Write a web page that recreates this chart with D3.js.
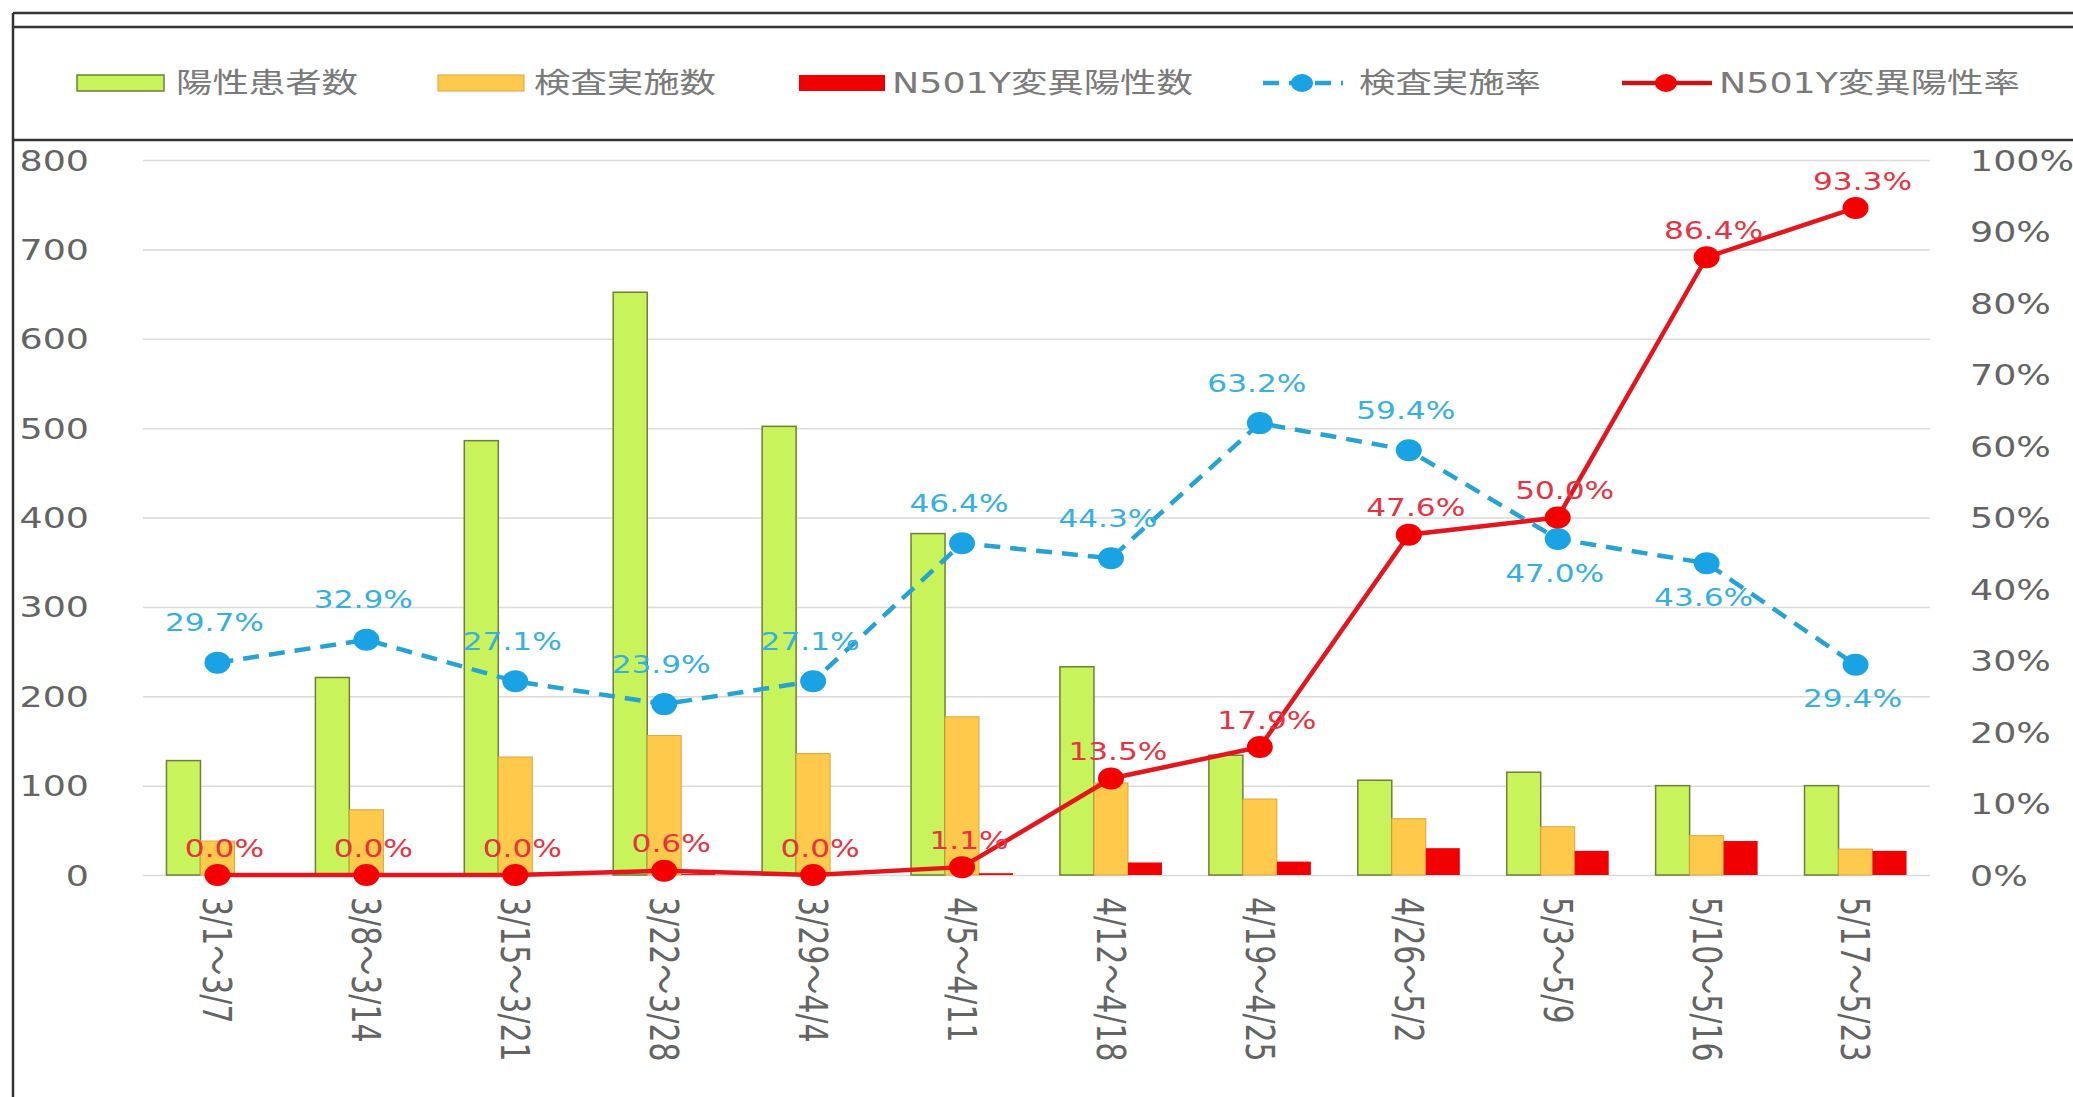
<!DOCTYPE html>
<html>
<head>
<meta charset="utf-8">
<script src="https://cdn.jsdelivr.net/npm/d3@7"></script>
<style>
  body { margin: 0; background: #fff; }
  svg { display: block; }
</style>
</head>
<body>
<svg id="svg" width="2073" height="1097"></svg>
<script>

// weekly data
var categories = ["3/1～3/7", "3/8～3/14", "3/15～3/21", "3/22～3/28", "3/29～4/4", "4/5～4/11",
                  "4/12～4/18", "4/19～4/25", "4/26～5/2", "5/3～5/9", "5/10～5/16", "5/17～5/23"];
var positives = [128, 221, 486, 652, 502, 382, 233, 134, 106, 115, 100, 100];   // 陽性患者数
var tested    = [38, 73, 132, 156, 136, 177, 103, 85, 63, 54, 44, 29];          // 検査実施数
var n501y     = [0, 0, 0, 1, 0, 2, 14, 15, 30, 27, 38, 27];                    // N501Y変異陽性数
var testRate  = [29.7, 32.9, 27.1, 23.9, 27.1, 46.4, 44.3, 63.2, 59.4, 47.0, 43.6, 29.4]; // 検査実施率 %
var n501yRate = [0.0, 0.0, 0.0, 0.6, 0.0, 1.1, 13.5, 17.9, 47.6, 50.0, 86.4, 93.3];      // N501Y変異陽性率 %
var leftTicks  = [0, 100, 200, 300, 400, 500, 600, 700, 800];
var rightTicks = [0, 0.1, 0.2, 0.3, 0.4, 0.5, 0.6, 0.7, 0.8, 0.9, 1];

var seriesNames = ["陽性患者数", "検査実施数", "N501Y変異陽性数", "検査実施率", "N501Y変異陽性率"];

var svg = d3.select("#svg");
var font = "'DejaVu Sans', 'Noto Sans CJK JP', sans-serif";
var stretch = 1.3;   // the original picture is widened

var plot = {left: 143, right: 1930, top: 160, bottom: 875};

var x = d3.scaleBand()
    .domain(categories)
    .range([plot.left, plot.right]);
var xSub = d3.scaleBand()
    .domain(["pos", "test", "n501y"])
    .range([-51, 51]);
var yL = d3.scaleLinear().domain([0, 800]).range([plot.bottom, plot.top]);
var yR = d3.scaleLinear().domain([0, 1]).range([plot.bottom, plot.top]);
var cx = function (i) { return x(categories[i]) + x.bandwidth() / 2; };

svg.append("rect").attr("width", 2073).attr("height", 1097).attr("fill", "#fff");

// gridlines
svg.append("g")
    .attr("transform", "translate(" + plot.left + ",0)")
    .call(d3.axisLeft(yL).tickValues(leftTicks).tickSize(-(plot.right - plot.left)).tickFormat(""))
    .call(function (g) { g.select(".domain").remove(); })
    .selectAll("line")
    .attr("stroke", "#dadada")
    .attr("stroke-width", 1.5);

// left axis
var leftAxis = svg.append("g")
    .attr("transform", "translate(89,0)")
    .call(d3.axisLeft(yL).tickValues(leftTicks).tickSize(0).tickPadding(0));
leftAxis.select(".domain").remove();
leftAxis.selectAll("text")
    .attr("x", 0).attr("dy", "0.36em")
    .attr("transform", "scale(" + stretch + ",1)")
    .style("font-family", font).style("font-size", "28px").attr("fill", "#646464");

// right axis
var rightAxis = svg.append("g")
    .attr("transform", "translate(1970,0)")
    .call(d3.axisRight(yR).tickValues(rightTicks).tickSize(0).tickPadding(0).tickFormat(d3.format(".0%")));
rightAxis.select(".domain").remove();
rightAxis.selectAll("text")
    .attr("x", 0).attr("dy", "0.36em")
    .attr("transform", "scale(" + stretch + ",1)")
    .style("font-family", font).style("font-size", "28px").attr("fill", "#646464");

// bars
var barSeries = [
    {key: "pos", values: positives, fill: "#c9f35b", stroke: "#6e7f3a", sw: 1.5},
    {key: "test", values: tested, fill: "#ffca4b", stroke: "#d8a640", sw: 1},
    {key: "n501y", values: n501y, fill: "#f00000", stroke: "none", sw: 0}
];
var barGrp = svg.append("g");
barSeries.forEach(function (s) {
    barGrp.selectAll("rect." + s.key)
        .data(s.values)
        .enter()
        .append("rect")
        .attr("class", s.key)
        .attr("x", function (d, i) { return cx(i) + xSub(s.key); })
        .attr("width", xSub.bandwidth())
        .attr("y", function (d) { return yL(d); })
        .attr("height", function (d) { return plot.bottom - yL(d); })
        .attr("fill", s.fill)
        .attr("stroke", s.stroke)
        .attr("stroke-width", s.sw);
});

// x axis labels (rotated)
var xAxis = svg.append("g")
    .attr("transform", "translate(0," + plot.bottom + ")")
    .call(d3.axisBottom(x).tickSize(0).tickPadding(0));
xAxis.select(".domain").remove();
xAxis.selectAll("text")
    .attr("x", 0).attr("y", 0).attr("dy", "0.36em")
    .attr("text-anchor", "start")
    .attr("transform", "translate(0,22) scale(" + stretch + ",1) rotate(90)")
    .style("font-family", font).style("font-size", "30px").attr("fill", "#646464");

// lines
var line = d3.line()
    .x(function (d, i) { return cx(i); })
    .y(function (d) { return yR(d / 100); });

svg.append("path")
    .datum(testRate)
    .attr("d", line)
    .attr("fill", "none")
    .attr("stroke", "#27a3d3")
    .attr("stroke-width", 4.5)
    .attr("stroke-dasharray", "16,10");
svg.append("g").selectAll("ellipse")
    .data(testRate).enter().append("ellipse")
    .attr("cx", function (d, i) { return cx(i); })
    .attr("cy", function (d) { return yR(d / 100); })
    .attr("rx", 13).attr("ry", 11)
    .attr("fill", "#1aa3e4");

svg.append("path")
    .datum(n501yRate)
    .attr("d", line)
    .attr("fill", "none")
    .attr("stroke", "#e3161e")
    .attr("stroke-width", 4.5);
svg.append("g").selectAll("ellipse")
    .data(n501yRate).enter().append("ellipse")
    .attr("cx", function (d, i) { return cx(i); })
    .attr("cy", function (d) { return yR(d / 100); })
    .attr("rx", 13).attr("ry", 11)
    .attr("fill", "#f40000");

// stretched text helper
function label(parent, px, py, str, size, fill, anchor) {
    parent.append("text")
        .attr("transform", "translate(" + px + "," + py + ") scale(" + stretch + ",1)")
        .attr("text-anchor", anchor || "middle")
        .attr("dy", "0.36em")
        .style("font-family", font)
        .style("font-size", size + "px")
        .attr("fill", fill)
        .text(str);
}

// data labels
var lblGrp = svg.append("g");
var fmt = function (d) { return d.toFixed(1) + "%"; };
testRate.forEach(function (d, i) {
    var below = i >= 9;
    label(lblGrp, cx(i) - 3, yR(d / 100) + (below ? 34 : -40), fmt(d), 24, "#36b0e0");
});
n501yRate.forEach(function (d, i) {
    label(lblGrp, cx(i) + 7, yR(d / 100) - 27, fmt(d), 24, "#e8323f");
});

// legend
var lg = svg.append("g");
lg.append("rect").attr("x", 77).attr("y", 75).attr("width", 87).attr("height", 16)
    .attr("fill", "#c9f35b").attr("stroke", "#6e7f3a").attr("stroke-width", 1.5);
lg.append("rect").attr("x", 438).attr("y", 75).attr("width", 86).attr("height", 16)
    .attr("fill", "#ffca4b").attr("stroke", "#d8a640").attr("stroke-width", 1);
lg.append("rect").attr("x", 799).attr("y", 75).attr("width", 86).attr("height", 16)
    .attr("fill", "#f00000");
lg.append("line").attr("x1", 1263).attr("x2", 1343).attr("y1", 83).attr("y2", 83)
    .attr("stroke", "#27a3d3").attr("stroke-width", 4.5).attr("stroke-dasharray", "16,10");
lg.append("ellipse").attr("cx", 1302).attr("cy", 83).attr("rx", 11).attr("ry", 9).attr("fill", "#1aa3e4");
lg.append("line").attr("x1", 1622).attr("x2", 1712).attr("y1", 83).attr("y2", 83)
    .attr("stroke", "#c8141c").attr("stroke-width", 4.5);
lg.append("ellipse").attr("cx", 1666).attr("cy", 83).attr("rx", 11).attr("ry", 9).attr("fill", "#f40000");

var lgText = [176, 534, 892, 1359, 1719];
seriesNames.forEach(function (n, i) {
    label(lg, lgText[i], 83, n, 28, "#7a7a7a", "start");
});

// frame
var frame = svg.append("g").attr("stroke", "#333").attr("stroke-width", 2.5);
frame.append("line").attr("x1", 13).attr("x2", 2073).attr("y1", 13).attr("y2", 13);
frame.append("line").attr("x1", 13).attr("x2", 2073).attr("y1", 27).attr("y2", 27);
frame.append("line").attr("x1", 13).attr("x2", 2073).attr("y1", 140).attr("y2", 140);
frame.append("line").attr("x1", 13).attr("x2", 13).attr("y1", 13).attr("y2", 1097);

</script>
</body>
</html>
